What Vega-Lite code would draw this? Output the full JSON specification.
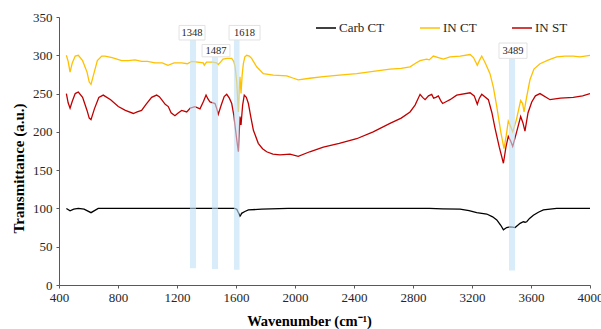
{
  "$schema": "https://vega.github.io/schema/vega-lite/v6.json",
  "width": 531,
  "height": 268,
  "autosize": "none",
  "padding": {"left": 59, "top": 17, "right": 11, "bottom": 44},
  "background": "white",
  "config": {
    "view": {"stroke": null},
    "font": "Liberation Serif",
    "axis": {"grid": false, "domainColor": "#595959", "tickColor": "#595959", "labelColor": "#262626", "labelFont": "Liberation Serif", "labelFontSize": 13, "titleFont": "Liberation Serif", "titleFontSize": 14.5, "titleFontWeight": "bold", "titleColor": "#000000", "tickSize": 3, "labelFlush": false, "labelOverlap": false, "labelBound": false}
  },
  "datasets": {
    "spectra": [
      {"wn": 450, "t": 100, "series": "Carb CT"}, {"wn": 475, "t": 97, "series": "Carb CT"}, {"wn": 500, "t": 99, "series": "Carb CT"}, {"wn": 531, "t": 100, "series": "Carb CT"}, {"wn": 570, "t": 99, "series": "Carb CT"}, {"wn": 617, "t": 94.5, "series": "Carb CT"}, {"wn": 666, "t": 100, "series": "Carb CT"}, {"wn": 700, "t": 100, "series": "Carb CT"}, {"wn": 1000, "t": 100, "series": "Carb CT"}, {"wn": 1300, "t": 100, "series": "Carb CT"}, {"wn": 1590, "t": 100, "series": "Carb CT"}, {"wn": 1605, "t": 99, "series": "Carb CT"}, {"wn": 1620, "t": 93, "series": "Carb CT"}, {"wn": 1627, "t": 90, "series": "Carb CT"}, {"wn": 1634, "t": 92, "series": "Carb CT"}, {"wn": 1638, "t": 93.6, "series": "Carb CT"}, {"wn": 1660, "t": 96, "series": "Carb CT"}, {"wn": 1684, "t": 98, "series": "Carb CT"}, {"wn": 1774, "t": 99, "series": "Carb CT"}, {"wn": 1953, "t": 100, "series": "Carb CT"}, {"wn": 2500, "t": 100, "series": "Carb CT"}, {"wn": 2912, "t": 100, "series": "Carb CT"}, {"wn": 3000, "t": 99.5, "series": "Carb CT"}, {"wn": 3119, "t": 99, "series": "Carb CT"}, {"wn": 3180, "t": 97, "series": "Carb CT"}, {"wn": 3232, "t": 94.4, "series": "Carb CT"}, {"wn": 3300, "t": 92.7, "series": "Carb CT"}, {"wn": 3340, "t": 89, "series": "Carb CT"}, {"wn": 3368, "t": 85, "series": "Carb CT"}, {"wn": 3395, "t": 78, "series": "Carb CT"}, {"wn": 3413, "t": 72, "series": "Carb CT"}, {"wn": 3435, "t": 75, "series": "Carb CT"}, {"wn": 3458, "t": 76, "series": "Carb CT"}, {"wn": 3475, "t": 75.5, "series": "Carb CT"}, {"wn": 3492, "t": 75, "series": "Carb CT"}, {"wn": 3526, "t": 80.5, "series": "Carb CT"}, {"wn": 3548, "t": 82.6, "series": "Carb CT"}, {"wn": 3560, "t": 82, "series": "Carb CT"}, {"wn": 3571, "t": 82.6, "series": "Carb CT"}, {"wn": 3590, "t": 87, "series": "Carb CT"}, {"wn": 3616, "t": 91, "series": "Carb CT"}, {"wn": 3650, "t": 95, "series": "Carb CT"}, {"wn": 3684, "t": 98, "series": "Carb CT"}, {"wn": 3774, "t": 100, "series": "Carb CT"}, {"wn": 4000, "t": 100, "series": "Carb CT"},

      {"wn": 450, "t": 300, "series": "IN CT"}, {"wn": 462, "t": 292, "series": "IN CT"}, {"wn": 475, "t": 278, "series": "IN CT"}, {"wn": 490, "t": 290, "series": "IN CT"}, {"wn": 510, "t": 299, "series": "IN CT"}, {"wn": 531, "t": 300, "series": "IN CT"}, {"wn": 560, "t": 293, "series": "IN CT"}, {"wn": 590, "t": 278, "series": "IN CT"}, {"wn": 605, "t": 265, "series": "IN CT"}, {"wn": 617, "t": 262, "series": "IN CT"}, {"wn": 635, "t": 275, "series": "IN CT"}, {"wn": 660, "t": 293, "series": "IN CT"}, {"wn": 690, "t": 299, "series": "IN CT"}, {"wn": 712, "t": 299, "series": "IN CT"}, {"wn": 760, "t": 297, "series": "IN CT"}, {"wn": 825, "t": 293, "series": "IN CT"}, {"wn": 870, "t": 293, "series": "IN CT"}, {"wn": 915, "t": 294, "series": "IN CT"}, {"wn": 960, "t": 292, "series": "IN CT"}, {"wn": 1000, "t": 292, "series": "IN CT"}, {"wn": 1051, "t": 290, "series": "IN CT"}, {"wn": 1100, "t": 290, "series": "IN CT"}, {"wn": 1139, "t": 287, "series": "IN CT"}, {"wn": 1180, "t": 290, "series": "IN CT"}, {"wn": 1232, "t": 290, "series": "IN CT"}, {"wn": 1270, "t": 289, "series": "IN CT"}, {"wn": 1300, "t": 292, "series": "IN CT"}, {"wn": 1340, "t": 291, "series": "IN CT"}, {"wn": 1378, "t": 290, "series": "IN CT"}, {"wn": 1385, "t": 287, "series": "IN CT"}, {"wn": 1400, "t": 291, "series": "IN CT"}, {"wn": 1440, "t": 291, "series": "IN CT"}, {"wn": 1469, "t": 290, "series": "IN CT"}, {"wn": 1480, "t": 288, "series": "IN CT"}, {"wn": 1495, "t": 291, "series": "IN CT"}, {"wn": 1512, "t": 295, "series": "IN CT"}, {"wn": 1540, "t": 296, "series": "IN CT"}, {"wn": 1571, "t": 296, "series": "IN CT"}, {"wn": 1585, "t": 292, "series": "IN CT"}, {"wn": 1594, "t": 285, "series": "IN CT"}, {"wn": 1605, "t": 265, "series": "IN CT"}, {"wn": 1616, "t": 226, "series": "IN CT"}, {"wn": 1622, "t": 255, "series": "IN CT"}, {"wn": 1627, "t": 272, "series": "IN CT"}, {"wn": 1634, "t": 250, "series": "IN CT"}, {"wn": 1642, "t": 275, "series": "IN CT"}, {"wn": 1650, "t": 289, "series": "IN CT"}, {"wn": 1660, "t": 298, "series": "IN CT"}, {"wn": 1673, "t": 300, "series": "IN CT"}, {"wn": 1690, "t": 299, "series": "IN CT"}, {"wn": 1706, "t": 296, "series": "IN CT"}, {"wn": 1740, "t": 285, "series": "IN CT"}, {"wn": 1785, "t": 276, "series": "IN CT"}, {"wn": 1853, "t": 274, "series": "IN CT"}, {"wn": 1944, "t": 273, "series": "IN CT"}, {"wn": 1990, "t": 270, "series": "IN CT"}, {"wn": 2022, "t": 268, "series": "IN CT"}, {"wn": 2100, "t": 270, "series": "IN CT"}, {"wn": 2192, "t": 272, "series": "IN CT"}, {"wn": 2300, "t": 274, "series": "IN CT"}, {"wn": 2418, "t": 276, "series": "IN CT"}, {"wn": 2530, "t": 279, "series": "IN CT"}, {"wn": 2644, "t": 282, "series": "IN CT"}, {"wn": 2720, "t": 283, "series": "IN CT"}, {"wn": 2780, "t": 285, "series": "IN CT"}, {"wn": 2820, "t": 290, "series": "IN CT"}, {"wn": 2848, "t": 293, "series": "IN CT"}, {"wn": 2870, "t": 294, "series": "IN CT"}, {"wn": 2893, "t": 295, "series": "IN CT"}, {"wn": 2910, "t": 294, "series": "IN CT"}, {"wn": 2938, "t": 299, "series": "IN CT"}, {"wn": 2972, "t": 297, "series": "IN CT"}, {"wn": 3006, "t": 295, "series": "IN CT"}, {"wn": 3051, "t": 298, "series": "IN CT"}, {"wn": 3120, "t": 299, "series": "IN CT"}, {"wn": 3187, "t": 301, "series": "IN CT"}, {"wn": 3210, "t": 297, "series": "IN CT"}, {"wn": 3236, "t": 287, "series": "IN CT"}, {"wn": 3250, "t": 293, "series": "IN CT"}, {"wn": 3266, "t": 299, "series": "IN CT"}, {"wn": 3290, "t": 290, "series": "IN CT"}, {"wn": 3322, "t": 276, "series": "IN CT"}, {"wn": 3345, "t": 258, "series": "IN CT"}, {"wn": 3368, "t": 233, "series": "IN CT"}, {"wn": 3395, "t": 200, "series": "IN CT"}, {"wn": 3417, "t": 178, "series": "IN CT"}, {"wn": 3432, "t": 195, "series": "IN CT"}, {"wn": 3446, "t": 214, "series": "IN CT"}, {"wn": 3460, "t": 208, "series": "IN CT"}, {"wn": 3476, "t": 200, "series": "IN CT"}, {"wn": 3500, "t": 215, "series": "IN CT"}, {"wn": 3530, "t": 241, "series": "IN CT"}, {"wn": 3543, "t": 237, "series": "IN CT"}, {"wn": 3553, "t": 226, "series": "IN CT"}, {"wn": 3570, "t": 245, "series": "IN CT"}, {"wn": 3593, "t": 268, "series": "IN CT"}, {"wn": 3620, "t": 282, "series": "IN CT"}, {"wn": 3661, "t": 289, "series": "IN CT"}, {"wn": 3720, "t": 294, "series": "IN CT"}, {"wn": 3774, "t": 298, "series": "IN CT"}, {"wn": 3830, "t": 299, "series": "IN CT"}, {"wn": 3887, "t": 299, "series": "IN CT"}, {"wn": 3932, "t": 298, "series": "IN CT"}, {"wn": 4000, "t": 300, "series": "IN CT"},

      {"wn": 450, "t": 250, "series": "IN ST"}, {"wn": 462, "t": 238, "series": "IN ST"}, {"wn": 475, "t": 231, "series": "IN ST"}, {"wn": 490, "t": 240, "series": "IN ST"}, {"wn": 510, "t": 250, "series": "IN ST"}, {"wn": 531, "t": 252, "series": "IN ST"}, {"wn": 560, "t": 245, "series": "IN ST"}, {"wn": 590, "t": 228, "series": "IN ST"}, {"wn": 605, "t": 218, "series": "IN ST"}, {"wn": 617, "t": 216, "series": "IN ST"}, {"wn": 640, "t": 230, "series": "IN ST"}, {"wn": 670, "t": 245, "series": "IN ST"}, {"wn": 700, "t": 248, "series": "IN ST"}, {"wn": 750, "t": 242, "series": "IN ST"}, {"wn": 802, "t": 233, "series": "IN ST"}, {"wn": 850, "t": 228, "series": "IN ST"}, {"wn": 904, "t": 224, "series": "IN ST"}, {"wn": 930, "t": 226, "series": "IN ST"}, {"wn": 960, "t": 228, "series": "IN ST"}, {"wn": 990, "t": 236, "series": "IN ST"}, {"wn": 1028, "t": 245, "series": "IN ST"}, {"wn": 1062, "t": 248, "series": "IN ST"}, {"wn": 1080, "t": 246, "series": "IN ST"}, {"wn": 1096, "t": 242, "series": "IN ST"}, {"wn": 1120, "t": 236, "series": "IN ST"}, {"wn": 1141, "t": 233, "series": "IN ST"}, {"wn": 1160, "t": 225, "series": "IN ST"}, {"wn": 1186, "t": 221, "series": "IN ST"}, {"wn": 1210, "t": 225, "series": "IN ST"}, {"wn": 1232, "t": 228, "series": "IN ST"}, {"wn": 1266, "t": 226, "series": "IN ST"}, {"wn": 1290, "t": 231, "series": "IN ST"}, {"wn": 1322, "t": 233, "series": "IN ST"}, {"wn": 1356, "t": 230, "series": "IN ST"}, {"wn": 1380, "t": 240, "series": "IN ST"}, {"wn": 1397, "t": 248, "series": "IN ST"}, {"wn": 1410, "t": 243, "series": "IN ST"}, {"wn": 1424, "t": 239, "series": "IN ST"}, {"wn": 1458, "t": 237, "series": "IN ST"}, {"wn": 1470, "t": 230, "series": "IN ST"}, {"wn": 1480, "t": 223, "series": "IN ST"}, {"wn": 1500, "t": 235, "series": "IN ST"}, {"wn": 1520, "t": 246, "series": "IN ST"}, {"wn": 1537, "t": 249, "series": "IN ST"}, {"wn": 1555, "t": 244, "series": "IN ST"}, {"wn": 1571, "t": 237, "series": "IN ST"}, {"wn": 1585, "t": 222, "series": "IN ST"}, {"wn": 1594, "t": 207, "series": "IN ST"}, {"wn": 1605, "t": 190, "series": "IN ST"}, {"wn": 1616, "t": 174, "series": "IN ST"}, {"wn": 1622, "t": 200, "series": "IN ST"}, {"wn": 1627, "t": 220, "series": "IN ST"}, {"wn": 1634, "t": 209, "series": "IN ST"}, {"wn": 1645, "t": 235, "series": "IN ST"}, {"wn": 1656, "t": 248, "series": "IN ST"}, {"wn": 1670, "t": 245, "series": "IN ST"}, {"wn": 1684, "t": 237, "series": "IN ST"}, {"wn": 1700, "t": 220, "series": "IN ST"}, {"wn": 1718, "t": 202, "series": "IN ST"}, {"wn": 1751, "t": 185, "series": "IN ST"}, {"wn": 1780, "t": 178, "series": "IN ST"}, {"wn": 1808, "t": 174, "series": "IN ST"}, {"wn": 1850, "t": 171, "series": "IN ST"}, {"wn": 1898, "t": 170, "series": "IN ST"}, {"wn": 1966, "t": 171, "series": "IN ST"}, {"wn": 2022, "t": 168, "series": "IN ST"}, {"wn": 2100, "t": 174, "series": "IN ST"}, {"wn": 2192, "t": 180, "series": "IN ST"}, {"wn": 2300, "t": 185, "series": "IN ST"}, {"wn": 2418, "t": 191, "series": "IN ST"}, {"wn": 2530, "t": 200, "series": "IN ST"}, {"wn": 2644, "t": 211, "series": "IN ST"}, {"wn": 2720, "t": 218, "series": "IN ST"}, {"wn": 2780, "t": 226, "series": "IN ST"}, {"wn": 2814, "t": 235, "series": "IN ST"}, {"wn": 2848, "t": 249, "series": "IN ST"}, {"wn": 2865, "t": 245, "series": "IN ST"}, {"wn": 2882, "t": 242, "series": "IN ST"}, {"wn": 2905, "t": 247, "series": "IN ST"}, {"wn": 2927, "t": 249, "series": "IN ST"}, {"wn": 2940, "t": 244, "series": "IN ST"}, {"wn": 2955, "t": 245, "series": "IN ST"}, {"wn": 2972, "t": 247, "series": "IN ST"}, {"wn": 2990, "t": 240, "series": "IN ST"}, {"wn": 3001, "t": 237, "series": "IN ST"}, {"wn": 3030, "t": 240, "series": "IN ST"}, {"wn": 3051, "t": 242, "series": "IN ST"}, {"wn": 3096, "t": 248, "series": "IN ST"}, {"wn": 3187, "t": 251, "series": "IN ST"}, {"wn": 3215, "t": 247, "series": "IN ST"}, {"wn": 3236, "t": 236, "series": "IN ST"}, {"wn": 3250, "t": 244, "series": "IN ST"}, {"wn": 3266, "t": 249, "series": "IN ST"}, {"wn": 3311, "t": 242, "series": "IN ST"}, {"wn": 3335, "t": 225, "series": "IN ST"}, {"wn": 3356, "t": 205, "series": "IN ST"}, {"wn": 3385, "t": 180, "series": "IN ST"}, {"wn": 3413, "t": 159, "series": "IN ST"}, {"wn": 3430, "t": 180, "series": "IN ST"}, {"wn": 3446, "t": 194, "series": "IN ST"}, {"wn": 3462, "t": 188, "series": "IN ST"}, {"wn": 3476, "t": 181, "series": "IN ST"}, {"wn": 3500, "t": 198, "series": "IN ST"}, {"wn": 3530, "t": 220, "series": "IN ST"}, {"wn": 3545, "t": 212, "series": "IN ST"}, {"wn": 3559, "t": 201, "series": "IN ST"}, {"wn": 3580, "t": 225, "series": "IN ST"}, {"wn": 3605, "t": 239, "series": "IN ST"}, {"wn": 3630, "t": 247, "series": "IN ST"}, {"wn": 3661, "t": 250, "series": "IN ST"}, {"wn": 3729, "t": 242, "series": "IN ST"}, {"wn": 3800, "t": 244, "series": "IN ST"}, {"wn": 3887, "t": 245, "series": "IN ST"}, {"wn": 3950, "t": 247, "series": "IN ST"}, {"wn": 4000, "t": 250, "series": "IN ST"}
    ],
    "bands": [
      {"x": 1288, "x2": 1329, "y": 22, "y2": 320},
      {"x": 1437, "x2": 1478, "y": 21, "y2": 298},
      {"x": 1586, "x2": 1624, "y": 20, "y2": 320},
      {"x": 3451, "x2": 3492, "y": 19, "y2": 296}
    ],
    "labels": [
      {"label": "1348", "x": 1214, "x2": 1390, "y": 320, "y2": 339, "xc": 1302, "yc": 329.5},
      {"label": "1487", "x": 1370, "x2": 1559, "y": 298, "y2": 314, "xc": 1464, "yc": 306},
      {"label": "1618", "x": 1553, "x2": 1763, "y": 320, "y2": 339, "xc": 1658, "yc": 329.5},
      {"label": "3489", "x": 3383, "x2": 3573, "y": 296, "y2": 316, "xc": 3478, "yc": 306}
    ]
  },
  "resolve": {"scale": {"y": "shared"}},
  "layer": [
    {
      "data": {"name": "spectra"},
      "mark": {"type": "line", "strokeWidth": 1.3, "clip": true},
      "encoding": {
        "x": {"field": "wn", "type": "quantitative", "scale": {"domain": [400, 4000], "nice": false, "zero": false},
          "axis": {"title": "Wavenumber (cm⁻¹)", "values": [400,500,600,700,800,900,1000,1100,1200,1300,1400,1500,1600,1700,1800,1900,2000,2100,2200,2300,2400,2500,2600,2700,2800,2900,3000,3100,3200,3300,3400,3500,3600,3700,3800,3900,4000],
            "labelExpr": "datum.value % 400 === 0 ? format(datum.value, 'd') : ''", "labelPadding": 3, "titlePadding": 10, "titleX": 250}},
        "y": {"field": "t", "type": "quantitative", "scale": {"domain": [0, 350], "nice": false, "zero": true},
          "axis": {"title": "Transmittance (a.u.)", "titleFontSize": 15, "tickCount": 7, "labelPadding": 4, "titlePadding": 6, "titleY": 151}},
        "color": {"field": "series", "type": "nominal",
          "scale": {"domain": ["Carb CT", "IN CT", "IN ST"], "range": ["#000000", "#FFC000", "#C00000"]},
          "legend": {"title": null, "orient": "none", "legendX": 256, "legendY": 0, "direction": "horizontal", "symbolType": "stroke", "symbolSize": 400, "symbolStrokeWidth": 1.5, "labelFont": "Liberation Serif", "labelFontSize": 13, "labelColor": "#262626", "columnPadding": 32, "labelOffset": 2}},
        "detail": {"field": "series"},
        "order": {"field": "wn", "type": "quantitative"}
      }
    },
    {
      "data": {"name": "bands"},
      "mark": {"type": "rect", "fill": "#BFE0F5", "opacity": 0.6},
      "encoding": {
        "x": {"field": "x", "type": "quantitative"},
        "x2": {"field": "x2"},
        "y": {"field": "y", "type": "quantitative"},
        "y2": {"field": "y2"}
      }
    },
    {
      "data": {"name": "labels"},
      "mark": {"type": "rect", "fill": "white", "stroke": "#e2e2e2", "strokeWidth": 1},
      "encoding": {
        "x": {"field": "x", "type": "quantitative"},
        "x2": {"field": "x2"},
        "y": {"field": "y", "type": "quantitative"},
        "y2": {"field": "y2"}
      }
    },
    {
      "data": {"name": "labels"},
      "mark": {"type": "text", "font": "Liberation Serif", "fontSize": 10.5, "color": "#262626", "baseline": "middle", "align": "center"},
      "encoding": {
        "x": {"field": "xc", "type": "quantitative"},
        "y": {"field": "yc", "type": "quantitative"},
        "text": {"field": "label"}
      }
    }
  ]
}
